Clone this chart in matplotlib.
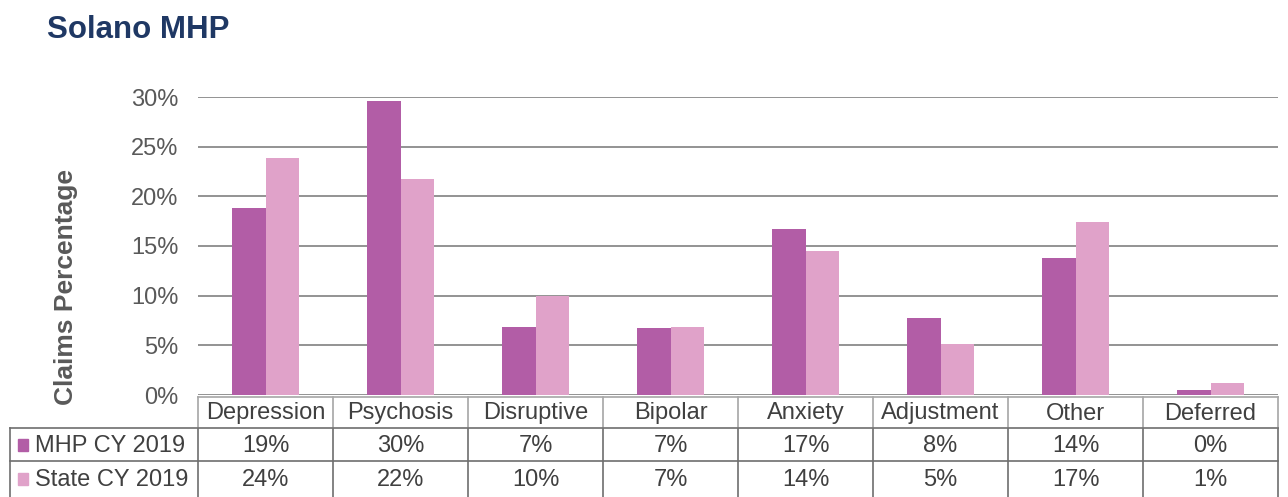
import numpy as np
import matplotlib.pyplot as plt
from matplotlib.lines import Line2D
from matplotlib.patches import Rectangle

plt.rcParams['font.family'] = ['Liberation Sans', 'DejaVu Sans']

categories = ['Depression', 'Psychosis', 'Disruptive', 'Bipolar', 'Anxiety',
              'Adjustment', 'Other', 'Deferred']
mhp = [18.8, 29.6, 6.85, 6.75, 16.7, 7.75, 13.8, 0.5]
state = [23.9, 21.75, 9.97, 6.85, 14.5, 5.1, 17.4, 1.2]
mhp_labels = ['19%', '30%', '7%', '7%', '17%', '8%', '14%', '0%']
state_labels = ['24%', '22%', '10%', '7%', '14%', '5%', '17%', '1%']
series = ['MHP CY 2019', 'State CY 2019']
colors = ['#B25DA6', '#E0A2C9']

W, H = 1288, 497
fig = plt.figure(figsize=(W / 100, H / 100), dpi=100)

def fx(px):
    return px / W

def fy(py):
    return 1 - py / H

x0, x1 = 198, 1278
ytop, ybot = 97, 395
ax = fig.add_axes([fx(x0), fy(ybot), fx(x1) - fx(x0), fy(ytop) - fy(ybot)])

x = np.arange(len(categories))
bw = 0.25
ax.bar(x - bw / 2, mhp, bw, color=colors[0], zorder=3)
ax.bar(x + bw / 2, state, bw, color=colors[1], zorder=3)
ax.set_xlim(-0.5, len(categories) - 0.5)
ax.set_ylim(0, 30)
ax.set_yticks(range(0, 31, 5))
ax.set_yticklabels([f'{v}%' for v in range(0, 31, 5)], fontsize=17, color='#595959')
ax.set_xticks([])
ax.tick_params(axis='y', length=0, pad=14)
ax.grid(axis='y', color='#808080', linewidth=1.2, zorder=0)
for s in ax.spines.values():
    s.set_visible(False)

fig.text(fx(66), fy(287), 'Claims Percentage', fontsize=19, fontweight='bold',
         color='#595959', rotation=90, ha='center', va='center')

fig.text(fx(47), fy(30), 'Solano MHP', fontsize=22.5, fontweight='bold',
         color='#1F3864', va='center', ha='left')

# data table
cw = (x1 - x0) / len(categories)
r0, r1, r2, r3 = 397, 428, 461, 497
def hline(xa, xb, yy, c):
    fig.add_artist(Line2D([fx(xa), fx(xb)], [fy(yy), fy(yy)], color=c, lw=1.2))
def vline(xx, ya, yb, c):
    fig.add_artist(Line2D([fx(xx), fx(xx)], [fy(ya), fy(yb)], color=c, lw=1.2))

light, dark = '#A6A6A6', '#6E6E6E'
hline(x0, x1, r0, light)
hline(10, x1, r1, dark)
hline(10, x1, r2, dark)
vline(10, r1, r3, dark)
for i in range(len(categories) + 1):
    vline(x0 + i * cw, r0, r1, light)
    vline(x0 + i * cw, r1, r3, dark)

tc = '#404040'
for i, c in enumerate(categories):
    cx = fx(x0 + (i + 0.5) * cw)
    fig.text(cx, fy((r0 + r1) / 2 + 1), c, ha='center', va='center', fontsize=17, color=tc)
    fig.text(cx, fy((r1 + r2) / 2 + 1), mhp_labels[i], ha='center', va='center', fontsize=17, color=tc)
    fig.text(cx, fy((r2 + r3) / 2 + 1), state_labels[i], ha='center', va='center', fontsize=17, color=tc)

for j, (name, col) in enumerate(zip(series, colors)):
    yc = (r1 + r2) / 2 if j == 0 else (r2 + r3) / 2
    fig.add_artist(Rectangle((fx(18), fy(yc + 6)), fx(10), fy(yc - 6) - fy(yc + 6),
                             transform=fig.transFigure, color=col))
    fig.text(fx(35), fy(yc + 1), name, ha='left', va='center', fontsize=17, color=tc)

plt.savefig('out.png', dpi=100)
